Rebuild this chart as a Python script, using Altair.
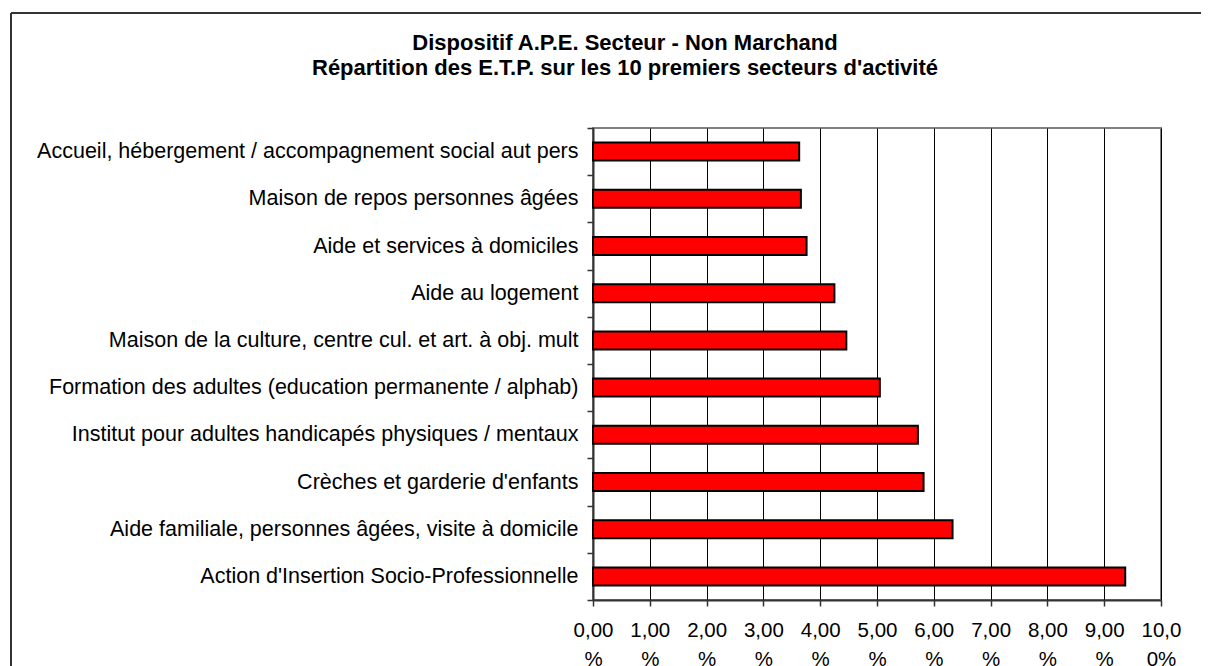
import altair as alt
import pandas as pd
import json

categories = [
    "Accueil, hébergement / accompagnement social aut pers",
    "Maison de repos personnes âgées",
    "Aide et services à domiciles",
    "Aide au logement",
    "Maison de la culture, centre cul. et art. à obj. mult",
    "Formation des adultes (education permanente / alphab)",
    "Institut pour adultes handicapés physiques / mentaux",
    "Crèches et garderie d'enfants",
    "Aide familiale, personnes âgées, visite à domicile",
    "Action d'Insertion Socio-Professionnelle",
]
values = [3.63, 3.66, 3.76, 4.25, 4.46, 5.05, 5.72, 5.82, 6.33, 9.37]

tick_values = [0, 1, 2, 3, 4, 5, 6, 7, 8, 9, 10]
tick_line1 = ["0,00", "1,00", "2,00", "3,00", "4,00", "5,00", "6,00", "7,00", "8,00", "9,00", "10,0"]
tick_line2 = ["%", "%", "%", "%", "%", "%", "%", "%", "%", "%", "0%"]

title_lines = [
    "Dispositif A.P.E. Secteur - Non Marchand",
    "Répartition des E.T.P. sur les 10 premiers secteurs d'activité",
]

df = pd.DataFrame({"secteur": categories, "pct": values})

label_pairs = [[a, b] for a, b in zip(tick_line1, tick_line2)]
label_expr = json.dumps(label_pairs) + "[round(datum.value)]"

FONT = "Liberation Sans"

bars = alt.Chart(df).mark_bar(
    height=18, color="#FF0000", stroke="#000000", strokeWidth=2
).encode(
    x=alt.X(
        "pct:Q",
        scale=alt.Scale(domain=[0, 10], nice=False, zero=True),
        axis=alt.Axis(
            values=tick_values,
            title=None,
            grid=True,
            gridColor="#000000",
            gridWidth=1,
            domainColor="#333333",
            domainWidth=2,
            tickColor="#333333",
            tickWidth=1.5,
            tickSize=6,
            labelPadding=14,
            labelFont=FONT,
            labelFontSize=20.5,
            labelColor="#000000",
            labelLineHeight=29,
            labelBaseline="top",
            labelExpr=label_expr,
            labelFlush=False,
            labelOverlap=False,
        ),
    ),
    y=alt.Y(
        "secteur:N",
        sort=categories,
        scale=alt.Scale(paddingInner=0, paddingOuter=0),
        axis=alt.Axis(
            title=None,
            grid=False,
            domainColor="#333333",
            domainWidth=2,
            tickColor="#333333",
            tickWidth=1.5,
            tickSize=6,
            tickBand="extent",
            labelPadding=9,
            labelFont=FONT,
            labelFontSize=21.5,
            labelColor="#000000",
            labelLimit=1000,
        ),
    ),
)

frame_top = alt.Chart(df).mark_rule(color="#333333", strokeWidth=2).encode(
    x=alt.value(-582), x2=alt.value(700), y=alt.value(-115)
)
frame_left = alt.Chart(df).mark_rule(color="#333333", strokeWidth=2).encode(
    x=alt.value(-582), y=alt.value(-115), y2=alt.value(600)
)

chart = alt.layer(bars, frame_top, frame_left).properties(
    width=568,
    height=472,
    padding={"left": 585, "top": 120, "right": 40, "bottom": 66},
    autosize=alt.AutoSizeParams(type="none"),
    background="#FFFFFF",
    title=alt.TitleParams(
        text=title_lines,
        font=FONT,
        fontSize=22,
        fontWeight="bold",
        color="#000000",
        anchor="middle",
        frame="group",
        dx=-252,
        offset=4,
        dy=72,
        lineHeight=25,
    ),
).configure_view(
    stroke="#808080", strokeWidth=2
)

chart.save("out.html", embed_options={"renderer": "svg", "actions": False})
